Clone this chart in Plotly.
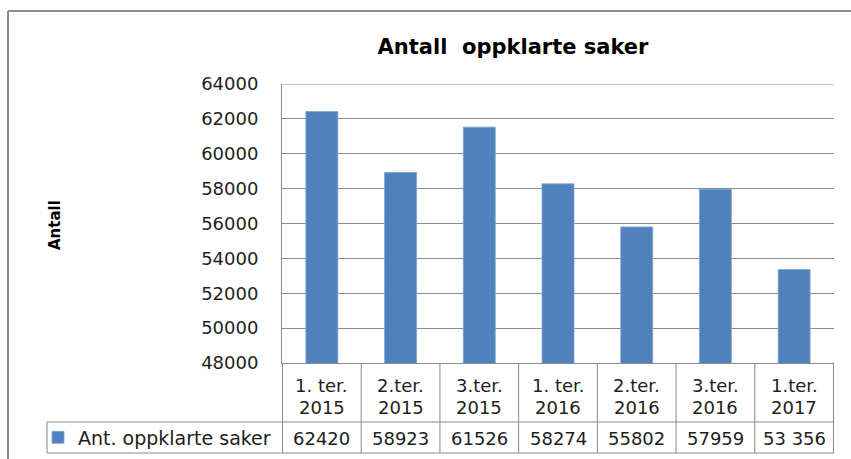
import plotly.graph_objects as go

periods = ["1. ter.", "2.ter.", "3.ter.", "1. ter.", "2.ter.", "3.ter.", "1.ter."]
years = ["2015", "2015", "2015", "2016", "2016", "2016", "2017"]
values = [62420, 58923, 61526, 58274, 55802, 57959, 53356]
value_labels = ["62420", "58923", "61526", "58274", "55802", "57959", "53 356"]
series_name = "Ant. oppklarte saker"
y_ticks = [48000, 50000, 52000, 54000, 56000, 58000, 60000, 62000, 64000]

categories = [f"{p} {y}" for p, y in zip(periods, years)]

W, H = 851, 459
L, R, T, B = 282, 17, 84, 96
pw, ph = W - L - R, H - T - B

def px(x):
    return (x - L) / pw

def py(y):
    return (H - B - y) / ph

GRID = "#8a8a8a"
TXT = "#1e1e1e"
FONT = "DejaVu Sans"

fig = go.Figure()
fig.add_trace(go.Bar(
    x=categories, y=values, name=series_name,
    marker=dict(color="#4F81BD", line=dict(color="#7ea3d2", width=0.8)),
    showlegend=True,
))

shapes = []
# top gridline at range maximum
shapes.append(dict(type="line", xref="paper", yref="y", x0=0, x1=1, y0=y_ticks[-1], y1=y_ticks[-1],
                   line=dict(color=GRID, width=1), layer="below"))
# table horizontal lines
shapes.append(dict(type="line", xref="paper", yref="paper", x0=px(47), x1=1, y0=py(422), y1=py(422),
                   line=dict(color=GRID, width=1)))
shapes.append(dict(type="line", xref="paper", yref="paper", x0=px(47), x1=1, y0=py(453), y1=py(453),
                   line=dict(color=GRID, width=1)))
shapes.append(dict(type="line", xref="paper", yref="paper", x0=px(47), x1=px(47), y0=py(422), y1=py(453),
                   line=dict(color=GRID, width=1)))
# column separators
for k in range(len(categories) + 1):
    shapes.append(dict(type="line", xref="x", yref="paper", x0=k - 0.5, x1=k - 0.5, y0=0, y1=py(453),
                       line=dict(color=GRID, width=1)))
# outer chart border (top and left)
shapes.append(dict(type="line", xref="paper", yref="paper", x0=px(8), x1=px(860), y0=py(11), y1=py(11),
                   line=dict(color="#8c8c8c", width=2)))
shapes.append(dict(type="line", xref="paper", yref="paper", x0=px(8), x1=px(8), y0=py(11), y1=py(470),
                   line=dict(color="#8c8c8c", width=2)))

annotations = []
for c, p, yv, vl in zip(categories, periods, years, value_labels):
    annotations.append(dict(x=c, xref="x", y=py(385), yref="paper", text=p, showarrow=False,
                            yanchor="middle", font=dict(family=FONT, size=18, color=TXT)))
    annotations.append(dict(x=c, xref="x", y=py(407), yref="paper", text=yv, showarrow=False,
                            yanchor="middle", font=dict(family=FONT, size=18, color=TXT)))
    annotations.append(dict(x=c, xref="x", y=py(438), yref="paper", text=vl, showarrow=False,
                            yanchor="middle", font=dict(family=FONT, size=18, color=TXT)))
annotations.append(dict(x=px(55), xref="paper", y=py(225), yref="paper", text="<b>Antall</b>",
                        textangle=-90, showarrow=False, xanchor="center", yanchor="middle",
                        font=dict(family=FONT, size=15, color="#000000")))

fig.update_layout(
    width=W, height=H,
    margin=dict(l=L, r=R, t=T, b=B, autoexpand=False),
    paper_bgcolor="white", plot_bgcolor="white",
    bargap=0.594,
    title=dict(text="<b>Antall\u00a0 oppklarte saker</b>", x=px(513), xref="paper", xanchor="center",
               y=1 - 47 / H, yref="container", yanchor="middle",
               font=dict(family=FONT, size=21, color="#000000")),
    xaxis=dict(showticklabels=False, showline=True, linecolor=GRID, linewidth=1,
               showgrid=False, ticks="", zeroline=False, fixedrange=True),
    yaxis=dict(range=[y_ticks[0], y_ticks[-1]], tickvals=y_ticks, ticktext=[str(v) for v in y_ticks],
               showgrid=True, gridcolor=GRID, gridwidth=1, showline=True, linecolor=GRID, linewidth=1,
               ticks="", ticklabelstandoff=19, zeroline=False,
               tickfont=dict(family=FONT, size=18, color=TXT)),
    legend=dict(x=px(38), xanchor="left", y=py(437.5), yanchor="middle", bgcolor="rgba(0,0,0,0)",
                borderwidth=0, font=dict(family=FONT, size=19, color=TXT), itemclick=False),
    shapes=shapes,
    annotations=annotations,
)

fig.write_html("out.html")
